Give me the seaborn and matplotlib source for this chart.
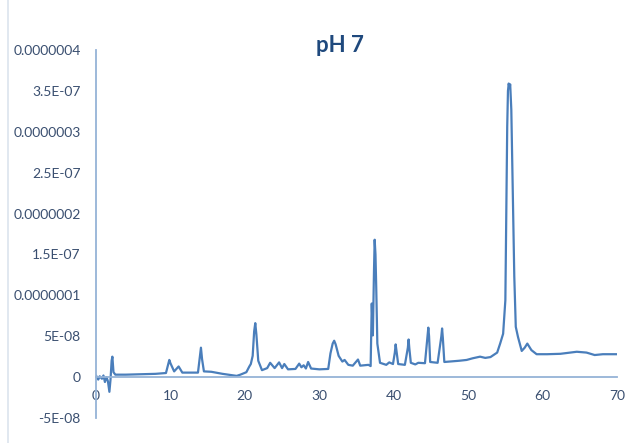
import matplotlib.pyplot as plt
import seaborn as sns
import numpy as np
from matplotlib.lines import Line2D
from matplotlib.ticker import FixedLocator, FixedFormatter

# retention time (min) and detector signal (units of 1e-8)
time_min = [
    0.0, 0.3, 0.5, 0.8, 1.0, 1.2, 1.4, 1.6, 1.8, 1.95, 2.1, 2.2, 2.35, 2.6,
    4.0, 6.0, 8.0, 9.4, 9.7, 9.85, 10.0, 10.5, 10.9, 11.1, 11.3, 11.6,
    13.7, 13.95, 14.1, 14.25, 14.5, 15.5, 17.0, 18.9, 19.4, 20.2, 20.6,
    20.8, 21.05, 21.25, 21.4, 21.55, 21.8, 22.3, 23.0, 23.4, 24.0, 24.6,
    25.0, 25.3, 25.8, 26.8, 27.3, 27.6, 27.9, 28.2, 28.5, 28.9, 30.0,
    31.2, 31.5, 31.8, 32.0, 32.2, 32.6, 33.1, 33.4, 33.9, 34.5, 35.2,
    35.5, 36.6, 36.9, 37.05, 37.2, 37.35, 37.44, 37.55, 37.65, 37.8,
    38.16, 39.0, 39.4, 39.9, 40.15, 40.26, 40.4, 40.6, 41.5, 41.9, 42.0,
    42.1, 42.3, 42.9, 43.3, 44.2, 44.55, 44.65, 44.75, 44.9, 45.9, 46.4,
    46.5, 46.6, 46.8, 47.5, 48.8, 49.8, 50.6, 51.6, 52.3, 53.0, 53.9,
    54.3, 54.7, 55.0, 55.1, 55.25, 55.35, 55.45, 55.55, 55.65, 55.8,
    56.0, 56.2, 56.4, 56.7, 57.2, 57.6, 57.95, 58.5, 59.2, 60.6, 62.4,
    64.6, 65.9, 67.0, 68.1, 70.0,
]
signal_e8 = [
    0.2, -0.3, 0.1, -0.2, 0.2, -0.6, 0.0, -0.5, -1.8, -0.3, 2.0, 2.5, 0.6, 0.3,
    0.3, 0.35, 0.4, 0.5, 1.6, 2.1, 1.7, 0.7, 1.1, 1.3, 1.0, 0.55,
    0.55, 2.4, 3.6, 2.2, 0.7, 0.65, 0.4, 0.15, 0.3, 0.6, 1.3,
    1.6, 2.6, 5.6, 6.6, 5.2, 2.0, 0.85, 1.1, 1.75, 1.1, 1.8,
    1.1, 1.6, 0.95, 1.0, 1.65, 1.2, 1.45, 1.05, 1.85, 1.05, 0.95,
    1.0, 2.9, 4.1, 4.45, 4.0, 2.6, 1.9, 2.1, 1.5, 1.4, 2.15,
    1.4, 1.5, 1.35, 9.0, 5.1, 13.0, 16.8, 15.0, 11.0, 4.1,
    1.75, 1.5, 1.8, 1.6, 3.0, 4.0, 3.0, 1.6, 1.5, 3.6, 4.6,
    3.5, 1.75, 1.55, 1.75, 1.7, 5.0, 6.05, 5.0, 1.85, 1.75, 5.0,
    5.95, 4.8, 1.85, 1.9, 2.0, 2.1, 2.3, 2.5, 2.35, 2.45, 3.0,
    4.1, 5.3, 9.4, 18.4, 30.6, 35.0, 35.9, 35.4, 35.8, 32.7,
    22.5, 12.3, 6.15, 4.9, 3.2, 3.6, 4.1, 3.3, 2.8, 2.8, 2.85,
    3.1, 3.0, 2.7, 2.8, 2.8,
]

y_ticks = [-5e-8, 0, 5e-8, 1e-7, 1.5e-7, 2e-7, 2.5e-7, 3e-7, 3.5e-7, 4e-7]
y_labels = ["-5E-08", "0", "5E-08", "0.0000001", "1.5E-07", "0.0000002",
            "2.5E-07", "0.0000003", "3.5E-07", "0.0000004"]
x_ticks = [0, 10, 20, 30, 40, 50, 60, 70]

sns.set_style("white")
plt.rcParams['font.family'] = ['Lato', 'DejaVu Sans']

signal = np.array(signal_e8) * 1e-8

fig = plt.figure(figsize=(6.36, 4.43), dpi=100)
ax = fig.add_axes([96 / 636, 1 - 418 / 443, (617 - 96) / 636, (418 - 50) / 443])

sns.lineplot(x=time_min, y=signal, ax=ax, color="#4A7EBB", linewidth=1.6)

ax.set_xlim(0, 70)
ax.set_ylim(-5e-8, 4e-7)
ax.set_xlabel("")
ax.set_ylabel("")

axis_col = "#95B3D7"
ax.spines['left'].set_position(('data', 0))
ax.spines['bottom'].set_position(('data', 0))
for s in ['top', 'right']:
    ax.spines[s].set_visible(False)
for s in ['left', 'bottom']:
    ax.spines[s].set_color(axis_col)
    ax.spines[s].set_linewidth(1.3)

lab_col = "#3A4F70"
ax.yaxis.set_major_locator(FixedLocator(y_ticks))
ax.yaxis.set_major_formatter(FixedFormatter(y_labels))
ax.set_xticks(x_ticks)
ax.set_xticklabels([str(v) for v in x_ticks])
ax.tick_params(axis='y', length=0, pad=11, labelsize=10, labelcolor=lab_col)
ax.tick_params(axis='x', length=0, pad=9, labelsize=10, labelcolor=lab_col)

fig.text(340 / 636, 1 - 45 / 443, "pH 7", ha='center', va='center',
         fontsize=16, fontweight='bold', color="#1F497D")

# faint chart border on the left
fig.add_artist(Line2D([8 / 636, 8 / 636], [0, 1], color="#DCE4EE", linewidth=1.2,
                      transform=fig.transFigure))

fig.savefig("out.png", dpi=100)
plt.close(fig)
